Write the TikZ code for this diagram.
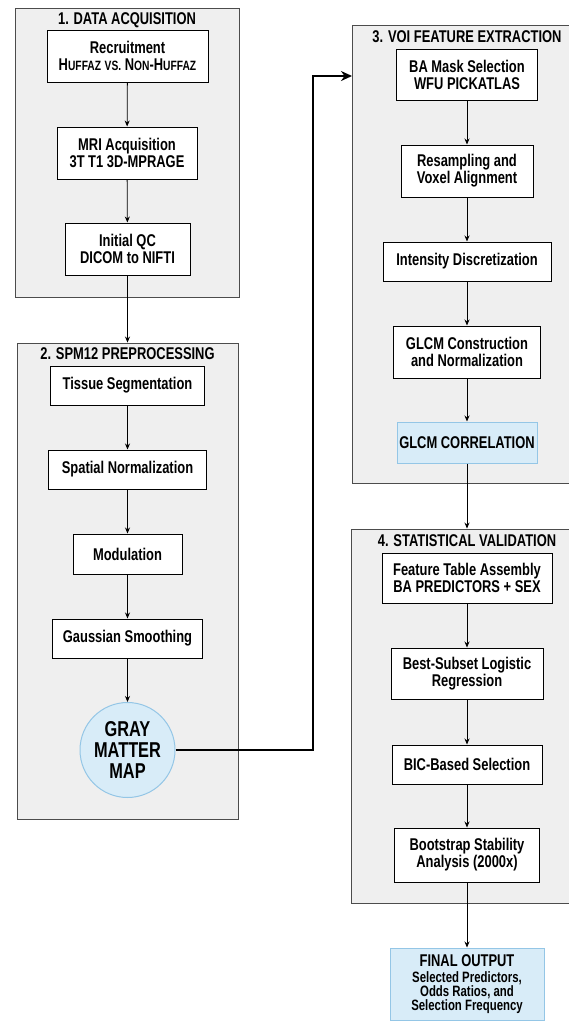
\documentclass[tikz,border=0pt]{standalone}
\usepackage{fontspec}
\setmainfont{Liberation Sans}[FakeStretch=0.76]
\usetikzlibrary{arrows.meta}
\definecolor{panelgray}{HTML}{EFEFEF}
\definecolor{hlblue}{HTML}{D8ECF8}
\definecolor{hlborder}{HTML}{94C6E6}
\newcommand{\sccap}[1]{{\fontsize{13.5}{17}\selectfont #1}}
\begin{document}
\begin{tikzpicture}[x=1pt,y=-1pt,
	font=\fontsize{17}{17}\selectfont\bfseries,
	panel/.style={draw=black!70,fill=panelgray,line width=0.9pt},
	paneltitle/.style={font=\fontsize{17}{18}\selectfont\bfseries,inner sep=0pt},
	stepbox/.style={draw,fill=white,line width=1pt,align=center,inner sep=1pt},
	hlbox/.style={stepbox,draw=hlborder,fill=hlblue},
	flow/.style={-{Stealth[length=6pt,width=5pt]},line width=0.8pt}]
	\useasboundingbox (0,0) rectangle (569,1021);
	\node [panel,minimum width=224,minimum height=289] (p1) at (127,152.5) {};
	\node [paneltitle] (t1) at (127,20) {1. DATA ACQUISITION};
	\node [stepbox,minimum width=161,minimum height=52] (rec) at (127.5,56) {Recruitment\\H\sccap{UFFAZ} \sccap{VS.} N\sccap{ON}-H\sccap{UFFAZ}};
	\node [stepbox,minimum width=140,minimum height=52] (mri) at (127,153) {MRI Acquisition\\3T T1 3D-MPRAGE};
	\node [stepbox,minimum width=125,minimum height=52] (qc) at (127.5,249) {Initial QC\\DICOM to NIFTI};
	\node [panel,minimum width=221,minimum height=476] (p2) at (127.5,581) {};
	\node [paneltitle] (t2) at (127.5,354) {2. SPM12 PREPROCESSING};
	\node [stepbox,minimum width=154,minimum height=39] (seg) at (127.5,385.5) {Tissue Segmentation};
	\node [stepbox,minimum width=158,minimum height=39] (norm) at (127.5,469.5) {Spatial Normalization};
	\node [stepbox,minimum width=109,minimum height=40] (mod) at (127.5,554) {Modulation};
	\node [stepbox,minimum width=150,minimum height=39] (smooth) at (127.5,638.5) {Gaussian Smoothing};
	\node [circle,draw=hlborder,fill=hlblue,line width=1pt,minimum size=95,inner sep=0pt,align=center,
		font=\fontsize{21.5}{21}\selectfont\bfseries] (gmm) at (127.5,750) {GRAY\\MATTER\\MAP};
	\node [panel,minimum width=219,minimum height=458] (p3) at (461.5,254) {};
	\node [paneltitle] (t3) at (467,37) {3. VOI FEATURE EXTRACTION};
	\node [stepbox,minimum width=141,minimum height=51] (mask) at (467,74.5) {BA Mask Selection\\WFU PICKATLAS};
	\node [stepbox,minimum width=132,minimum height=52] (resamp) at (467,171) {Resampling and\\Voxel Alignment};
	\node [stepbox,minimum width=168,minimum height=39] (disc) at (467,261.5) {Intensity Discretization};
	\node [stepbox,minimum width=147,minimum height=52] (glcm) at (467,352) {GLCM Construction\\and Normalization};
	\node [hlbox,minimum width=140,minimum height=41] (corr) at (467,442.5) {GLCM CORRELATION};
	\node [panel,minimum width=220,minimum height=374] (p4) at (461,716) {};
	\node [paneltitle] (t4) at (467,541) {4. STATISTICAL VALIDATION};
	\node [stepbox,minimum width=170,minimum height=50] (feat) at (467,578) {Feature Table Assembly\\BA PREDICTORS + SEX};
	\node [stepbox,minimum width=152,minimum height=51] (best) at (467,673.5) {Best-Subset Logistic\\Regression};
	\node [stepbox,minimum width=150,minimum height=39] (bic) at (467,764.5) {BIC-Based Selection};
	\node [stepbox,minimum width=145,minimum height=54] (boot) at (467,855) {Bootstrap Stability\\Analysis (2000x)};
	\node [hlbox,minimum width=154,minimum height=72] (final) at (467,984) {FINAL OUTPUT\\[-1pt]
		{\fontsize{15}{15}\selectfont Selected Predictors,}\\[-3pt]{\fontsize{15}{15}\selectfont Odds Ratios, and}\\[-3pt]{\fontsize{15}{15}\selectfont Selection Frequency}};
	\coordinate (bend) at (313,750);
	\coordinate (in3) at (352,76);
	\draw [flow] (rec) -- (mri);
	\draw [flow] (mri) -- (qc);
	\draw [flow] (qc) -- (qc |- p2.north);
	\draw [flow] (seg) -- (norm);
	\draw [flow] (norm) -- (mod);
	\draw [flow] (mod) -- (smooth);
	\draw [flow] (smooth) -- (gmm);
	\draw [flow,line width=2.6pt,-{Stealth[length=11pt,width=10pt]}] (gmm.east) -- (bend) |- (in3);
	\draw [flow] (mask) -- (resamp);
	\draw [flow] (resamp) -- (disc);
	\draw [flow] (disc) -- (glcm);
	\draw [flow] (glcm) -- (corr);
	\draw [flow] (corr) -- (corr |- p4.north);
	\draw [flow] (feat) -- (best);
	\draw [flow] (best) -- (bic);
	\draw [flow] (bic) -- (boot);
	\draw [flow] (boot) -- (final);
\end{tikzpicture}
\end{document}
